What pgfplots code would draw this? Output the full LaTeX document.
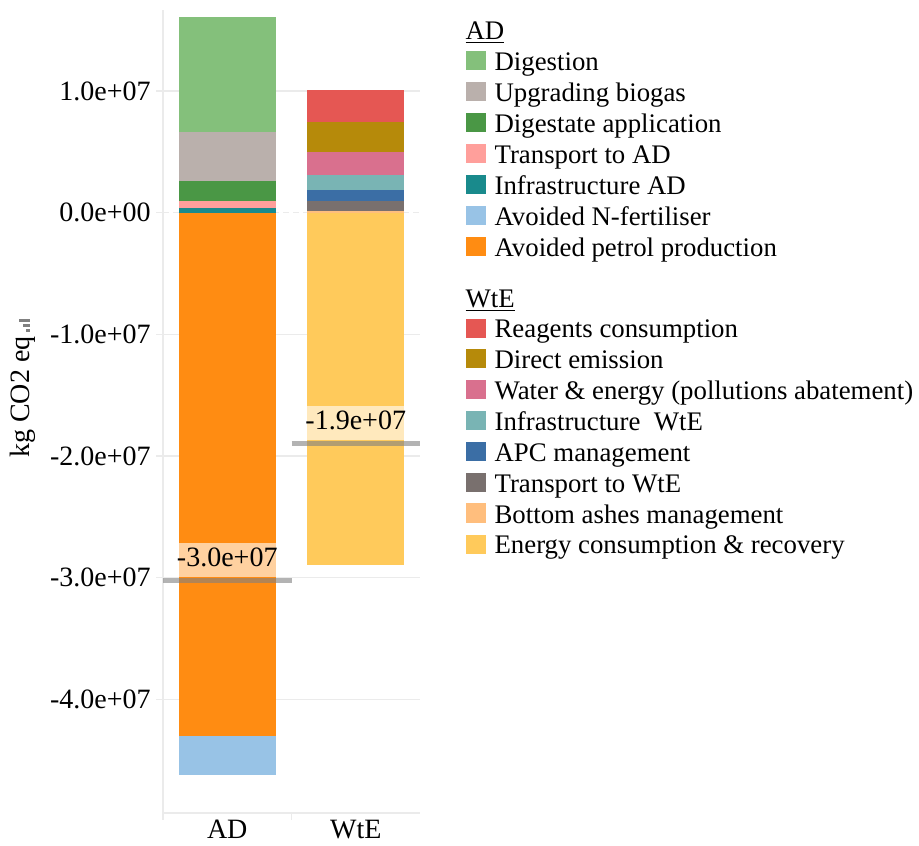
\documentclass[border=0pt]{standalone}
\usepackage{pgfplots}
\pgfplotsset{compat=1.18}
\usepackage{pgfplotstable}
\usepackage{fontspec}
\setmainfont{Liberation Serif}

\definecolor{gridc}{HTML}{EBEBEB}
\definecolor{cDig}{HTML}{84C07B}
\definecolor{cUpg}{HTML}{BAB0AC}
\definecolor{cDga}{HTML}{4A9745}
\definecolor{cTAD}{HTML}{FF9F9B}
\definecolor{cIAD}{HTML}{198A8C}
\definecolor{cAvN}{HTML}{98C3E6}
\definecolor{cPet}{HTML}{FF8C12}
\definecolor{cRea}{HTML}{E55753}
\definecolor{cDir}{HTML}{B68A0A}
\definecolor{cWat}{HTML}{D9708E}
\definecolor{cIWt}{HTML}{79B4B4}
\definecolor{cAPC}{HTML}{3B6EA5}
\definecolor{cTWt}{HTML}{79706E}
\definecolor{cAsh}{HTML}{FFBE7D}
\definecolor{cEne}{HTML}{FFCA5B}

% positive contributions (stacked upward from 0)
\pgfplotstableread{
x infraAD transpAD digestate upgrading digestion ashes trWtE apc infraWtE water direct reagents
0 3.6e5 6.0e5 1.64e6 4.0e6 9.48e6 0 0 0 0 0 0 0
1 0 0 0 0 0 1.4e5 8.2e5 9.3e5 1.2e6 1.89e6 2.49e6 2.6e6
}\postab
% negative contributions (stacked downward from 0)
\pgfplotstableread{
x petrol nfert energy
0 -4.30e7 -3.2e6 0
1 0 0 -2.90e7
}\negtab

\pgfplotsset{
  base/.style={at={(0,0)}, anchor=south west, scale only axis,
    width=128.5pt, height=401.5pt,
    xmin=-0.5, xmax=1.5, ymin=-4.935e7, ymax=1.666e7},
  swatch/.style={legend image code/.code={\fill[##1] (0pt,-3.6pt) rectangle (9.6pt,6.0pt);},
    fill=#1, draw=none},
}

\begin{document}
\begin{tikzpicture}
\useasboundingbox (-81.5pt,-16pt) rectangle (378pt,406.5pt);
\begin{axis}[base,
  ybar stacked, bar width=48.5pt,
  axis x line*=bottom, axis y line*=left,
  axis line style={draw=gridc, line width=0.7pt, -},
  xtick={-0.5,0.5}, xticklabels={,},
  extra x ticks={0,1}, extra x tick labels={AD,WtE},
  extra x tick style={major tick length=0pt, tick style={draw=none}},
  ytick={-4e7,-3e7,-2e7,-1e7,1e7},
  yticklabels={-4.0e+07,-3.0e+07,-2.0e+07,-1.0e+07,1.0e+07},
  extra y ticks={0}, extra y tick labels={0.0e+00},
  extra y tick style={grid style={densely dashed, draw=gray!60, line width=0.5pt}},
  scaled y ticks=false,
  tick align=outside, major tick length=3.5pt,
  tick style={draw=gridc, line width=0.7pt},
  ymajorgrids, major grid style={draw=gridc, line width=0.7pt},
  tick label style={font=\fontsize{14}{16}\selectfont},
  yticklabel style={inner xsep=2.5pt},
  ylabel={kg CO2 eq\,\textcolor{gray}{\rule{1.5pt}{1.6pt}\kern1pt\rule{1.5pt}{3.4pt}\kern1pt\rule{1.5pt}{5.4pt}}},
  ylabel style={at={([xshift=-70pt]axis description cs:0,0.529)}, anchor=center,
    font=\fontsize{14}{16}\selectfont},
  legend style={at={(axis description cs:1,1)}, xshift=23pt, yshift=-5.9pt,
    anchor=north west, draw=none, fill=none, inner sep=0pt,
    font=\fontsize{13.4}{13.5}\selectfont, row sep=4.15pt,
    nodes={inner sep=0pt},
    /tikz/every odd column/.append style={column sep=4.5pt}},
  legend cell align=left,
]
\addplot[fill=cIAD, draw=none, forget plot] table[x=x, y=infraAD] {\postab};
\addplot[fill=cTAD, draw=none, forget plot] table[x=x, y=transpAD] {\postab};
\addplot[fill=cDga, draw=none, forget plot] table[x=x, y=digestate] {\postab};
\addplot[fill=cUpg, draw=none, forget plot] table[x=x, y=upgrading] {\postab};
\addplot[fill=cDig, draw=none, forget plot] table[x=x, y=digestion] {\postab};
\addplot[fill=cAsh, draw=none, forget plot] table[x=x, y=ashes] {\postab};
\addplot[fill=cTWt, draw=none, forget plot] table[x=x, y=trWtE] {\postab};
\addplot[fill=cAPC, draw=none, forget plot] table[x=x, y=apc] {\postab};
\addplot[fill=cIWt, draw=none, forget plot] table[x=x, y=infraWtE] {\postab};
\addplot[fill=cWat, draw=none, forget plot] table[x=x, y=water] {\postab};
\addplot[fill=cDir, draw=none, forget plot] table[x=x, y=direct] {\postab};
\addplot[fill=cRea, draw=none, forget plot] table[x=x, y=reagents] {\postab};

\addlegendimage{empty legend}\addlegendentry{\hspace{-14.5pt}\underline{AD}}
\addlegendimage{swatch=cDig}\addlegendentry{Digestion}
\addlegendimage{swatch=cUpg}\addlegendentry{Upgrading biogas}
\addlegendimage{swatch=cDga}\addlegendentry{Digestate application}
\addlegendimage{swatch=cTAD}\addlegendentry{Transport to AD}
\addlegendimage{swatch=cIAD}\addlegendentry{Infrastructure AD}
\addlegendimage{swatch=cAvN}\addlegendentry{Avoided N-fertiliser}
\addlegendimage{swatch=cPet}\addlegendentry{Avoided petrol production}
\addlegendimage{empty legend}\addlegendentry{\rule{0pt}{19.5pt}\hspace{-14.5pt}\underline{WtE}}
\addlegendimage{swatch=cRea}\addlegendentry{Reagents consumption}
\addlegendimage{swatch=cDir}\addlegendentry{Direct emission}
\addlegendimage{swatch=cWat}\addlegendentry{Water \& energy (pollutions abatement)}
\addlegendimage{swatch=cIWt}\addlegendentry{Infrastructure\ \ WtE}
\addlegendimage{swatch=cAPC}\addlegendentry{APC management}
\addlegendimage{swatch=cTWt}\addlegendentry{Transport to WtE}
\addlegendimage{swatch=cAsh}\addlegendentry{Bottom ashes management}
\addlegendimage{swatch=cEne}\addlegendentry{Energy consumption \& recovery}
\end{axis}

\begin{axis}[base, hide axis, ybar stacked, bar width=48.5pt]
\addplot[fill=cPet, draw=none] table[x=x, y=petrol] {\negtab};
\addplot[fill=cAvN, draw=none] table[x=x, y=nfert] {\negtab};
\addplot[fill=cEne, draw=none] table[x=x, y=energy] {\negtab};
\end{axis}

\begin{axis}[base, hide axis]
\addplot[draw=gray, line width=2.5pt, opacity=0.6, mark=none] coordinates {(-0.5,-3.02e7) (0.5,-3.02e7)};
\addplot[draw=gray, line width=2.5pt, opacity=0.6, mark=none] coordinates {(0.5,-1.895e7) (1.5,-1.895e7)};
\node[anchor=south, fill=white, fill opacity=0.6, text opacity=1, inner xsep=0.5pt, inner ysep=1.5pt,
  text height=10pt, text depth=4pt, font=\fontsize{14}{16}\selectfont]
  at (axis cs:0,-3.02e7) [yshift=1.25pt] {-3.0e+07};
\node[anchor=south, fill=white, fill opacity=0.6, text opacity=1, inner xsep=0.5pt, inner ysep=1.5pt,
  text height=10pt, text depth=4pt, font=\fontsize{14}{16}\selectfont]
  at (axis cs:1,-1.895e7) [yshift=1.25pt] {-1.9e+07};
\end{axis}
\end{tikzpicture}
\end{document}
